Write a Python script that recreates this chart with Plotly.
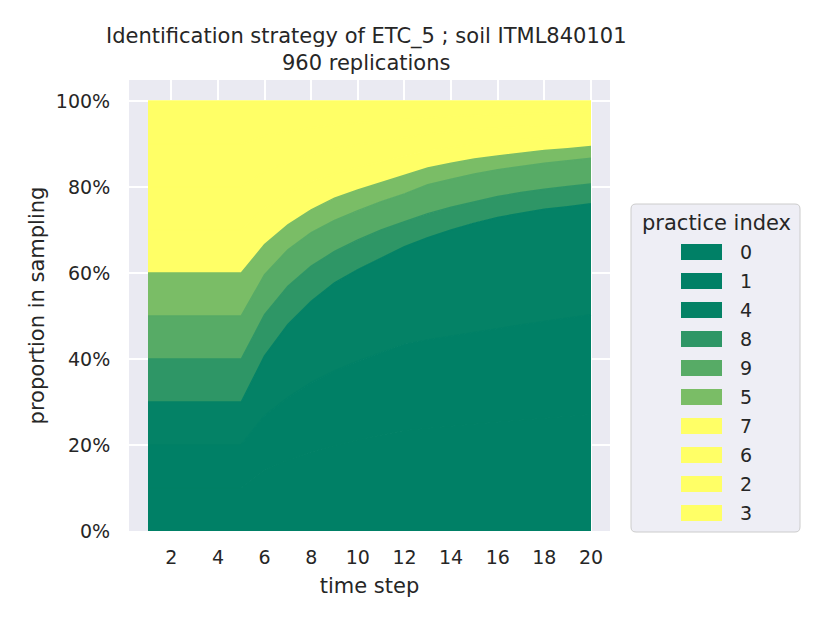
import plotly.graph_objects as go

# ---------------------------------------------------------------------------
# data : share (%) of each practice in the sampling, per time step
steps = list(range(1, 21))

p0 = [10, 10, 10, 10, 10, 14.1, 16.5, 18.4, 19.9, 21.2, 22.3, 23.4, 23.9, 24.4, 24.9, 25.4, 25.8, 26.2, 26.7, 27.1]
p1 = [10, 10, 10, 10, 10, 12.7, 14.5, 16.1, 17.3, 18.3, 19.2, 20.0, 20.5, 20.9, 21.3, 21.7, 22.1, 22.5, 22.8, 23.2]
p4 = [10, 10, 10, 10, 10, 13.9, 17.0, 18.9, 20.5, 21.3, 22.0, 22.7, 23.8, 24.7, 25.4, 25.8, 26.0, 26.1, 25.9, 25.8]
p8 = [10, 10, 10, 10, 10, 9.6, 8.9, 8.2, 7.3, 6.9, 6.5, 5.8, 5.6, 5.3, 5.0, 4.9, 4.8, 4.7, 4.7, 4.6]
p9 = [10, 10, 10, 10, 10, 9.3, 8.5, 7.8, 7.2, 6.8, 6.6, 6.5, 6.7, 6.5, 6.4, 6.2, 6.1, 6.0, 6.0, 6.0]
p5 = [10, 10, 10, 10, 10, 7.0, 5.8, 5.3, 5.2, 4.8, 4.4, 4.2, 3.9, 3.7, 3.5, 3.2, 3.1, 3.0, 2.8, 2.7]
p7 = [10, 10, 10, 10, 10, 8.6, 7.4, 6.5, 5.8, 5.3, 4.9, 4.5, 4.0, 3.7, 3.5, 3.3, 3.1, 3.0, 2.9, 2.7]
p6 = [10, 10, 10, 10, 10, 8.4, 7.2, 6.3, 5.7, 5.2, 4.8, 4.4, 3.9, 3.7, 3.4, 3.2, 3.1, 2.9, 2.8, 2.7]
p2 = [10, 10, 10, 10, 10, 8.3, 7.1, 6.3, 5.6, 5.1, 4.7, 4.3, 3.9, 3.6, 3.3, 3.2, 3.0, 2.8, 2.7, 2.6]
p3 = [10, 10, 10, 10, 10, 8.1, 7.1, 6.2, 5.5, 5.1, 4.6, 4.2, 3.8, 3.5, 3.3, 3.1, 2.9, 2.8, 2.7, 2.6]

practices = ['0', '1', '4', '8', '9', '5', '7', '6', '2', '3']
series = [p0, p1, p4, p8, p9, p5, p7, p6, p2, p3]
colors = ['#008066', '#008066', '#048266', '#2e9666', '#57ab66', '#7abd66',
          '#ffff66', '#ffff66', '#ffff66', '#ffff66']

y_ticks = [0, 20, 40, 60, 80, 100]
y_tick_text = ['0%', '20%', '40%', '60%', '80%', '100%']
x_ticks = [2, 4, 6, 8, 10, 12, 14, 16, 18, 20]

#----------------------------------------------------------------------------------------------------

W, H = 830, 623
OFF = 8                          # page body margin
L, R, T, B = 129, 610, 80, 531   # plot area in screen pixels
FONT = 'DejaVu Sans'
TXT = '#262626'


def px(x):
    return (x - L) / (R - L)


def py(y):
    return (B - y) / (B - T)


fig = go.Figure()

for name, vals, col in zip(practices, series, colors):
    fig.add_trace(go.Scatter(x=steps, y=vals, name=name, mode='lines',
                             line=dict(color=col, width=1.5),
                             stackgroup='one', fillcolor=col, showlegend=False))

fig.update_layout(width=W, height=H,
                  margin=dict(l=L - OFF, r=W - R + OFF, t=T - OFF, b=H - B + OFF),
                  plot_bgcolor='#eaeaf2', paper_bgcolor='white',
                  font=dict(family=FONT, color=TXT, size=19),
                  showlegend=False)

fig.update_xaxes(range=[0.185, 20.815], tickvals=x_ticks, showgrid=True,
                 gridcolor='white', gridwidth=1.5, zeroline=False, showline=False,
                 ticks='outside', ticklen=9, tickcolor='rgba(0,0,0,0)',
                 tickfont=dict(size=19),
                 title=dict(text='time step', font=dict(size=21), standoff=11))
fig.update_yaxes(range=[0, 104.88], tickvals=y_ticks, ticktext=y_tick_text, showgrid=True,
                 gridcolor='white', gridwidth=1.5, zeroline=False, showline=False,
                 ticks='outside', ticklen=14, tickcolor='rgba(0,0,0,0)',
                 tickfont=dict(size=19),
                 title=dict(text='proportion in sampling', font=dict(size=21), standoff=5))

# title, two lines
fig.add_annotation(text='Identification strategy of ETC_5 ; soil ITML840101',
                   xref='paper', yref='paper', x=px(366), y=py(37),
                   showarrow=False, font=dict(size=21), xanchor='center', yanchor='middle')
fig.add_annotation(text='960 replications',
                   xref='paper', yref='paper', x=px(366), y=py(63),
                   showarrow=False, font=dict(size=21), xanchor='center', yanchor='middle')

# legend box (drawn by hand to get matplotlib-like patches)
x0, x1, y0, y1, r = px(631), px(800), py(204), py(532), 5
rx, ry = r / (R - L), r / (B - T)
box = (f'M {x0 + rx},{y0} L {x1 - rx},{y0} Q {x1},{y0} {x1},{y0 - ry} '
       f'L {x1},{y1 + ry} Q {x1},{y1} {x1 - rx},{y1} '
       f'L {x0 + rx},{y1} Q {x0},{y1} {x0},{y1 + ry} '
       f'L {x0},{y0 - ry} Q {x0},{y0} {x0 + rx},{y0} Z')
fig.add_shape(type='path', path=box, xref='paper', yref='paper',
              fillcolor='#eeeef5', line=dict(color='#cccccc', width=1))
fig.add_annotation(text='practice index', xref='paper', yref='paper',
                   x=px(716), y=py(223), showarrow=False, font=dict(size=21),
                   xanchor='center', yanchor='middle')
for i, (name, col) in enumerate(zip(practices, colors)):
    yc = 252 + i * 29
    fig.add_shape(type='rect', xref='paper', yref='paper',
                  x0=px(681), x1=px(722), y0=py(yc - 8), y1=py(yc + 8),
                  fillcolor=col, line=dict(width=0))
    fig.add_annotation(text=name, xref='paper', yref='paper',
                       x=px(738), y=py(yc), showarrow=False, font=dict(size=19),
                       xanchor='left', yanchor='middle')

fig.write_html("out.html")
